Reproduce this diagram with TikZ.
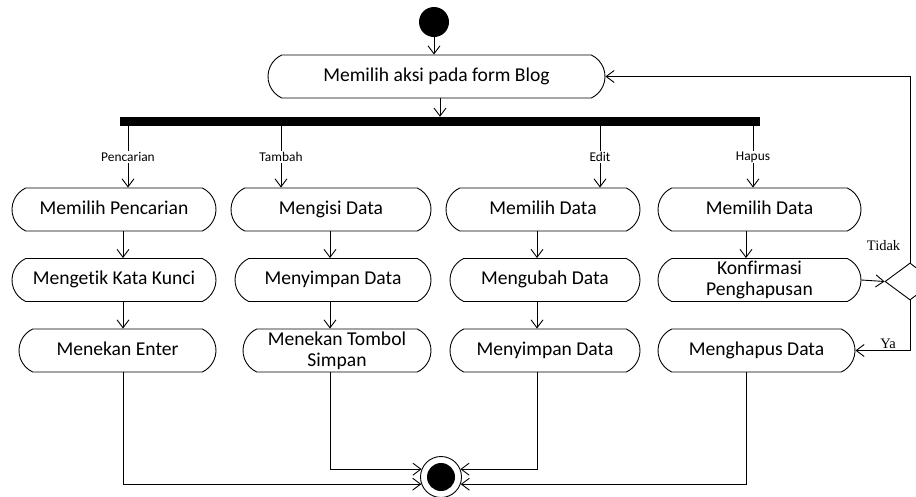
\documentclass[tikz,border=0pt]{standalone}
\usepackage{fontspec}
\setmainfont{Carlito}[Ligatures=NoCommon]
\newfontfamily\serifyn{Liberation Serif}
\usetikzlibrary{shapes.misc,shapes.geometric,arrows.meta,calc}

\begin{document}
\begin{tikzpicture}[x=1pt, y=-1pt,
            act/.style={rounded rectangle, rounded rectangle arc length=130, draw, line width=0.9pt, minimum height=43pt, inner xsep=2pt, inner ysep=0pt, align=center, text height=13.5pt, text depth=4.5pt, font=\fontsize{19.6}{21}\selectfont},
            twoline/.style={text height=, text depth=},
            arrow/.style={-{Straight Barb[length=8pt, width=12pt]}, line width=0.9pt},
            lbl/.style={fill=white, inner sep=1pt, font=\fontsize{13.4}{15}\selectfont},
            yn/.style={font=\serifyn\fontsize{14.5}{16}\selectfont}
        ]
        \useasboundingbox (0,0) rectangle (916,496);

        \node[circle, fill, minimum size=30pt, inner sep=0pt] (start) at (434,22) {};
        \node[act, minimum width=341pt] (pilih) at (436.5,76.5) {Memilih aksi pada form Blog};
        \node[rectangle, fill, minimum width=640pt, minimum height=9pt, inner sep=0pt] (fork) at (440,121.5) {};

        % garis cabang dan garis kolom
        \coordinate (f1) at (128,0);
        \coordinate (f2) at (281,0);
        \coordinate (f3) at (600,0);
        \coordinate (f4) at (753,0);
        \coordinate (k1) at (123,0);
        \coordinate (k2) at (330,0);
        \coordinate (k3) at (537,0);
        \coordinate (k4) at (746,0);

        \node[act, minimum width=208pt] (cari1) at (114,209.5) {Memilih Pencarian};
        \node[act, minimum width=208pt] (cari2) at (114,280) {Mengetik Kata Kunci};
        \node[act, minimum width=201pt] (cari3) at (117.5,350.5) {Menekan Enter};

        \node[act, minimum width=204pt] (tambah1) at (331,209.5) {Mengisi Data};
        \node[act, minimum width=200pt] (tambah2) at (333,280) {Menyimpan Data};
        \node[act, twoline, minimum width=192pt] (tambah3) at (337,350.5) {Menekan Tombol\\Simpan};

        \node[act, minimum width=198pt] (edit1) at (543,209.5) {Memilih Data};
        \node[act, minimum width=194pt] (edit2) at (545,280) {Mengubah Data};
        \node[act, minimum width=194pt] (edit3) at (545,350.5) {Menyimpan Data};

        \node[act, minimum width=207pt] (hapus1) at (759.5,209.5) {Memilih Data};
        \node[act, twoline, minimum width=207pt] (hapus2) at (759.5,280) {Konfirmasi\\Penghapusan};
        \node[act, minimum width=201pt] (hapus3) at (756.5,350.5) {Menghapus Data};

        \node[diamond, draw, line width=0.9pt, minimum width=50pt, minimum height=37pt, inner sep=0pt] (cek) at (910,281.5) {};

        \node[circle, draw, line width=0.9pt, minimum size=41pt, inner sep=0pt] (akhir) at (441,477) {};
        \node[circle, fill, minimum size=28pt, inner sep=0pt] (akhirdot) at (akhir) {};

        \draw[arrow] (start) -- (start |- pilih.north);
        \draw[arrow] (pilih.south -| fork) -- (fork.north);

        \draw[arrow] (fork.south -| f1) -- node[lbl] {Pencarian} (cari1.north -| f1);
        \draw[arrow] (fork.south -| f2) -- node[lbl] {Tambah} (tambah1.north -| f2);
        \draw[arrow] (fork.south -| f3) -- node[lbl] {Edit} (edit1.north -| f3);
        \draw[arrow] (fork.south -| f4) -- node[lbl] {Hapus} (hapus1.north -| f4);

        \draw[arrow] (cari1.south -| k1) -- (cari2.north -| k1);
        \draw[arrow] (cari2.south -| k1) -- (cari3.north -| k1);
        \draw[arrow] (tambah1.south -| k2) -- (tambah2.north -| k2);
        \draw[arrow] (tambah2.south -| k2) -- (tambah3.north -| k2);
        \draw[arrow] (edit1.south -| k3) -- (edit2.north -| k3);
        \draw[arrow] (edit2.south -| k3) -- (edit3.north -| k3);
        \draw[arrow] (hapus1.south -| k4) -- (hapus2.north -| k4);

        \draw[arrow] (hapus2.east) -- (cek.west);
        \draw[arrow] (cek.north) |- node[yn, pos=0.046, left=6pt] {Tidak} (pilih.east);
        \draw[arrow] (cek.south) |- node[yn, pos=0.7, above=0pt, inner sep=1pt] {Ya} (hapus3.east);

        \draw[arrow] (cari3.south -| k1) |- (akhir.200);
        \draw[arrow] (tambah3.south -| k2) |- (akhir.158);
        \draw[arrow] (edit3.south -| k3) |- (akhir.22);
        \draw[arrow] (hapus3.south -| k4) |- (akhir.340);

\end{tikzpicture}
\end{document}
